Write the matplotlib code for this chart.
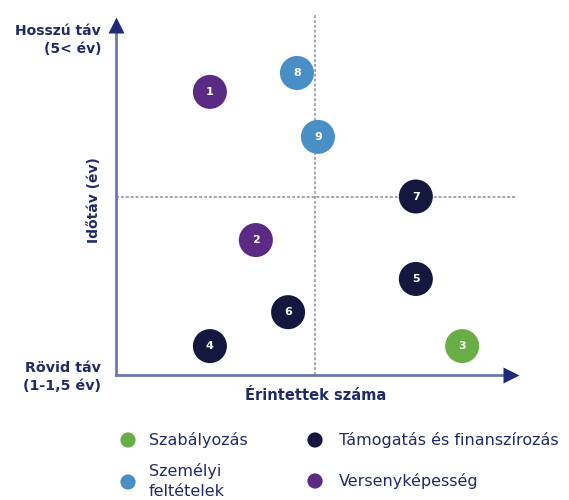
import matplotlib
matplotlib.use("Agg")
import matplotlib.pyplot as plt

plt.rcParams['font.family'] = ['DejaVu Sans']

# Items: number, category, reach (x), time horizon (y)
labels = ["1", "2", "3", "4", "5", "6", "7", "8", "9"]
categories = ["Versenyképesség", "Versenyképesség", "Szabályozás",
              "Támogatás és finanszírozás", "Támogatás és finanszírozás",
              "Támogatás és finanszírozás", "Támogatás és finanszírozás",
              "Személyi feltételek", "Személyi feltételek"]
x_reach = [2.33, 3.47, 8.59, 2.33, 7.44, 4.27, 7.44, 4.49, 5.01]
y_time = [7.93, 3.78, 0.81, 0.81, 2.69, 1.76, 5.0, 8.46, 6.67]

x_split = 4.94
y_split = 5.0

colors = {
    "Szabályozás": "#69ad46",
    "Személyi feltételek": "#4a8ec6",
    "Támogatás és finanszírozás": "#14183f",
    "Versenyképesség": "#5b2a84",
}

axis_col = "#6d76b4"
head_col = "#1f2a78"
text_col = "#1f2a66"

fig = plt.figure(figsize=(5.69, 5.0), dpi=100)
W, H = 569, 500
x0, x1, ytop, ybot = 116, 519, 18, 375
ax = fig.add_axes([x0 / W, (H - ybot) / H, (x1 - x0) / W, (ybot - ytop) / H])
ax.set_xlim(0, 10)
ax.set_ylim(0, 10)
ax.axis("off")

# quadrant guides
ax.plot([x_split, x_split], [0, 10.1], ls=(0, (2, 1.2)), lw=1.1, color="#8b90a6",
        zorder=1, clip_on=False)
ax.plot([0, 9.95], [y_split, y_split], ls=(0, (2, 1.2)), lw=1.1, color="#8b90a6",
        zorder=1, clip_on=False)

# axes with arrowheads
ax.plot([0, 0], [0, 9.6], color=axis_col, lw=2, zorder=2, clip_on=False)
ax.plot([0, 9.6], [0, 0], color=axis_col, lw=2, zorder=2, clip_on=False)
ax.plot([0], [9.8], marker="^", ms=11, color=head_col, mec="none", clip_on=False, zorder=3)
ax.plot([9.8], [0], marker=">", ms=11, color=head_col, mec="none", clip_on=False, zorder=3)

# bubbles
for lab, cat, xv, yv in zip(labels, categories, x_reach, y_time):
    ax.scatter(xv, yv, s=600, color=colors[cat], edgecolors="none", zorder=4, clip_on=False)
    ax.text(xv, yv, lab, color="white", ha="center", va="center", fontsize=8,
            fontweight="bold", zorder=5)

# axis labels
fig.text(101 / W, 1 - 40 / H, "Hosszú táv\n(5< év)", ha="right", va="center",
         fontsize=10, fontweight="bold", color=text_col, linespacing=1.3)
fig.text(101 / W, 1 - 377 / H, "Rövid táv\n(1-1,5 év)", ha="right", va="center",
         fontsize=10.3, fontweight="bold", color=text_col, linespacing=1.3)
fig.text(94 / W, 1 - 200 / H, "Időtáv (év)", ha="center", va="center", rotation=90,
         fontsize=10, fontweight="bold", color=text_col)
fig.text(316 / W, 1 - 395 / H, "Érintettek száma", ha="center", va="center",
         fontsize=10.5, fontweight="bold", color=text_col)

# legend
leg = fig.add_axes([0, 0, 1, 1])
leg.set_xlim(0, W)
leg.set_ylim(H, 0)
leg.axis("off")
legend_items = [
    ("Szabályozás", 128, 440, "Szabályozás"),
    ("Személyi feltételek", 128, 482, "Személyi\nfeltételek"),
    ("Támogatás és finanszírozás", 315, 440, "Támogatás és finanszírozás"),
    ("Versenyképesség", 315, 481, "Versenyképesség"),
]
for cat, lx, ly, txt in legend_items:
    leg.scatter(lx, ly, s=120, color=colors[cat], edgecolors="none")
    dx = 21 if lx < 200 else 24
    leg.text(lx + dx, ly + (-1 if "\n" in txt else 0), txt, ha="left", va="center",
             fontsize=11.5, color=text_col, linespacing=1.4)

fig.savefig("out.png", dpi=100, facecolor="white")
